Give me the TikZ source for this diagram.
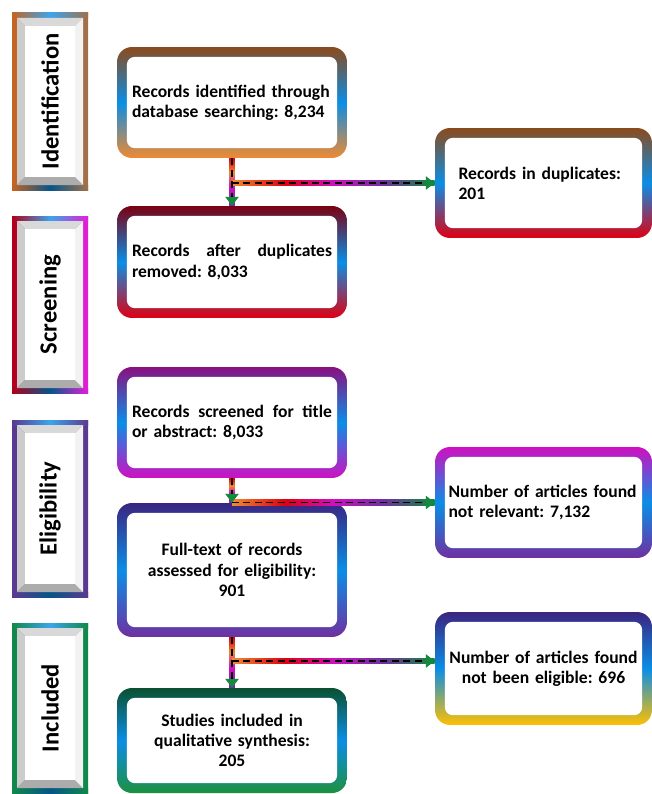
\documentclass[tikz,border=0pt]{standalone}
\usepackage{fontspec}
\setmainfont{Carlito}
\usetikzlibrary{positioning,arrows.meta}
\frenchspacing

\definecolor{cblue}{HTML}{0A8EE6}
\definecolor{cbrown}{HTML}{8B4A1C}
\definecolor{corange}{HTML}{F08A30}
\definecolor{cdred}{HTML}{7A0012}
\definecolor{cred}{HTML}{E00010}
\definecolor{cplum}{HTML}{8A1080}
\definecolor{cmagenta}{HTML}{D010C0}
\definecolor{cindigo}{HTML}{3A2580}
\definecolor{cpurple}{HTML}{7030A0}
\definecolor{cdgreen}{HTML}{0B5030}
\definecolor{cgreen}{HTML}{1E9040}
\definecolor{cyellow}{HTML}{FFC000}
\definecolor{arrowgreen}{HTML}{138A3C}
% stage frame colours
\definecolor{fid1}{HTML}{C46424}
\definecolor{fid2}{HTML}{A0704C}
\definecolor{fsc1}{HTML}{B00018}
\definecolor{fsc2}{HTML}{E020D8}
\definecolor{fel1}{HTML}{5A3A90}
\definecolor{fin1}{HTML}{10884A}

\pgfdeclarehorizontalshading{flowh}{100bp}{color(0bp)=(corange); color(25bp)=(corange); color(38bp)=(cred); color(50bp)=(cmagenta); color(62bp)=(cpurple); color(75bp)=(arrowgreen); color(100bp)=(arrowgreen)}
\pgfdeclareverticalshading{flowv}{100bp}{color(0bp)=(cpurple); color(25bp)=(cpurple); color(45bp)=(cmagenta); color(60bp)=(corange); color(75bp)=(cred); color(100bp)=(cred)}

\tikzset{
  flowbox/.style={rounded corners=8.5pt, inner sep=0pt, minimum width=4.6cm,
    text width=4.0cm, align=left, font=\bfseries\fontsize{10}{11.5}\selectfont,
    path picture={\fill[white, rounded corners=4.5pt]
      ([shift={(5.6pt,-5.6pt)}]path picture bounding box.north west) rectangle
      ([shift={(-5.6pt,5.6pt)}]path picture bounding box.south east);}},
  sidebox/.style={flowbox, minimum width=4.34cm, text width=3.8cm},
  stagelbl/.style={rotate=90, inner sep=0pt, font=\bfseries\fontsize{14}{16}\selectfont},
  flowdash/.style={dash pattern=on 4pt off 2.5pt, line width=0.9pt,
    -{Triangle[color=arrowgreen, length=5pt, width=7.5pt]}},
}

\begin{document}
\begin{tikzpicture}[x=0.02cm, y=-0.02cm]
  \useasboundingbox (0,0) rectangle (652,794);

  % stage frames on the left
  \foreach \nm/\cy/\hh/\lbl/\ca/\cb in {sid/101.5/88.5/Identification/fid1/fid2,
      ssc/304.5/88.5/Screening/fsc1/fsc2, sel/508.5/88.5/Eligibility/fel1/fel1,
      sin/708/85/Included/fin1/fin1}{
    \shade[left color=\ca, right color=\cb] (12,{\cy-\hh}) rectangle (88,{\cy+\hh});
    \shade[left color=\ca, right color=\cb, middle color=cblue!80] (12,{\cy-\hh}) rectangle (88,{\cy-\hh+5});
    \shade[left color=\ca, right color=\cb, middle color=cblue!60!black] (12,{\cy+\hh-5}) rectangle (88,{\cy+\hh});
    \fill[gray!30] (17,{\cy-\hh+5}) -- (83,{\cy-\hh+5}) -- (75,{\cy-\hh+13}) -- (25,{\cy-\hh+13}) -- cycle;
    \fill[gray!40] (17,{\cy-\hh+5}) -- (25,{\cy-\hh+13}) -- (25,{\cy+\hh-13}) -- (17,{\cy+\hh-5}) -- cycle;
    \fill[gray!65] (17,{\cy+\hh-5}) -- (25,{\cy+\hh-13}) -- (75,{\cy+\hh-13}) -- (83,{\cy+\hh-5}) -- cycle;
    \fill[gray!10] (83,{\cy-\hh+5}) -- (83,{\cy+\hh-5}) -- (75,{\cy+\hh-13}) -- (75,{\cy-\hh+13}) -- cycle;
    \fill[white] (25,{\cy-\hh+13}) rectangle (75,{\cy+\hh-13});
    \node[stagelbl] (\nm) at (50,\cy) {\lbl};
  }

  % main column
  \node[flowbox, minimum height=2.22cm, top color=cbrown, bottom color=corange, middle color=cblue]
    (b1) at (232,102.5) {Records identified through\\database searching: 8,234};
  \node[flowbox, minimum height=2.24cm, top color=cdred, bottom color=cred, middle color=cblue]
    (b2) at (232,262) {Records\hfill after\hfill duplicates\\removed: 8,033};
  \node[flowbox, minimum height=2.22cm, top color=cplum, bottom color=cmagenta, middle color=cblue]
    (b3) at (232,422.5) {Records\hfill screened\hfill for\hfill title\\or abstract: 8,033};
  \node[flowbox, align=center, minimum height=2.68cm, top color=cindigo, bottom color=cpurple, middle color=cblue]
    (b4) at (232,570) {Full-text of records\\assessed for eligibility:\\901};
  \node[flowbox, align=center, minimum height=2.1cm, top color=cdgreen, bottom color=cgreen, middle color=cblue]
    (b5) at (232,740.5) {Studies included in\\qualitative synthesis:\\205};

  % side column
  \node[sidebox, text width=3.4cm, minimum height=2.2cm, top color=cbrown, bottom color=cred, middle color=cblue]
    (r1) at (543.5,183) {Records in duplicates:\\201};
  \node[sidebox, minimum height=2.22cm, top color=cmagenta, bottom color=cpurple, middle color=cblue]
    (r2) at (543.5,502.5) {Number of articles found\\not relevant: 7,132};
  \node[sidebox, align=center, minimum height=2.26cm, top color=cindigo, bottom color=cyellow, middle color=cblue]
    (r3) at (543.5,668.5) {Number of articles found\\not been eligible: 696};

  % connectors
  \coordinate (j1) at (b1.south |- r1.west);
  \coordinate (j2) at (b3.south |- r2.west);
  \coordinate (j3) at (232,661);
  \coordinate (e3) at (r3.west |- j3);
  \foreach \ta/\tb in {b1/b2, b3/b4, b4/b5}
    \shade[shading=flowv] ([xshift=-1.7pt]\ta.south) rectangle ([xshift=1.7pt]\tb.north);
  \shade[shading=flowh] ([yshift=1.7pt]j1) rectangle ([yshift=-1.7pt]r1.west);
  \shade[shading=flowh] ([yshift=1.7pt]j2) rectangle ([yshift=-1.7pt]r2.west);
  \shade[shading=flowh] ([yshift=1.7pt]j3) rectangle ([yshift=-1.7pt]e3);
  \draw[flowdash] (b1.south) -- (b2.north);
  \draw[flowdash] (j1) -- (r1.west);
  \draw[flowdash] (b3.south) -- (b4.north);
  \draw[flowdash] (j2) -- (r2.west);
  \draw[flowdash] (b4.south) -- (b5.north);
  \draw[flowdash] (j3) -- (e3);
\end{tikzpicture}
\end{document}
